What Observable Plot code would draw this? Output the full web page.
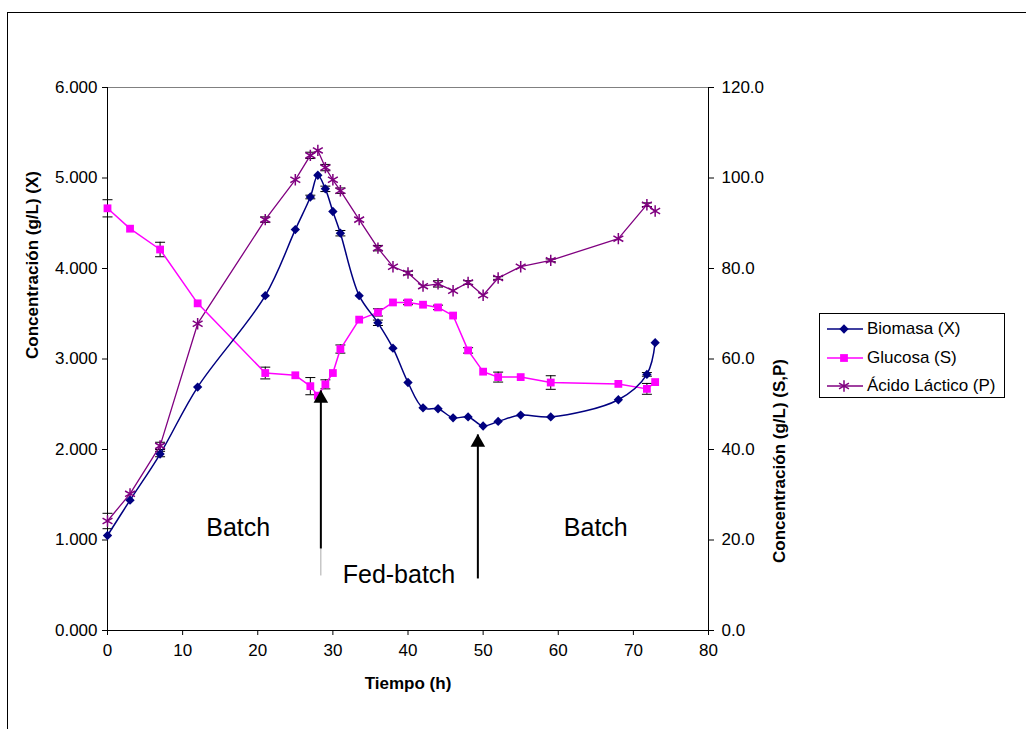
<!DOCTYPE html>
<html>
<head>
<meta charset="utf-8">
<script src="https://cdn.jsdelivr.net/npm/d3@7"></script>
<script src="https://cdn.jsdelivr.net/npm/@observablehq/plot@0.6"></script>
<style>
  html, body { margin: 0; padding: 0; background: #fff; overflow: hidden; width: 1026px; height: 729px; }
  #frame { position: absolute; left: 7px; top: 12px; width: 1100px; height: 800px; border: 1.5px solid #000; }
  #chart { position: absolute; left: 0; top: 0; }
  #legend { position: absolute; left: 819px; top: 313px; width: 184px; height: 83px; border: 1px solid #000; background: #fff;
            font-family: "Liberation Sans", Arial, sans-serif; font-size: 17px; color: #000; }
  .row { position: absolute; left: 0; width: 184px; height: 20px; }
  .row svg { position: absolute; left: 6px; top: 3px; }
  .row span { position: absolute; left: 47px; top: 0; line-height: 20px; white-space: nowrap; }
</style>
</head>
<body>
<div id="frame"></div>
<div id="chart"></div>
<div id="legend"></div>
<script>
// ---- data ----
const tiempo   = [0, 3, 7, 12, 21, 25, 27, 28, 29, 30, 31, 33.5, 36, 38, 40, 42, 44, 46, 48, 50, 52, 55, 59, 68, 71.8, 72.9];
const biomasa  = [1.05, 1.44, 1.95, 2.69, 3.70, 4.43, 4.79, 5.03, 4.88, 4.63, 4.39, 3.70, 3.40, 3.12, 2.74, 2.46, 2.45, 2.35, 2.36, 2.26, 2.31, 2.38, 2.36, 2.55, 2.83, 3.18];
const glucosa  = [93.3, 88.8, 84.2, 72.3, 56.9, 56.4, 54.0, 51.9, 54.4, 56.9, 62.2, 68.7, 70.3, 72.5, 72.5, 72.0, 71.4, 69.6, 61.9, 57.2, 56.0, 56.0, 54.8, 54.5, 53.4, 54.9];
const acido    = [24.2, 30.2, 40.8, 67.8, 90.8, 99.6, 105.0, 106.1, 102.3, 99.6, 97.2, 90.8, 84.5, 80.4, 79.0, 76.1, 76.6, 75.1, 76.9, 74.1, 77.9, 80.4, 81.8, 86.6, 94.1, 92.7];
const errBiomasa = [0, 0, 0.03, 0, 0, 0, 0.02, 0, 0.03, 0, 0.03, 0, 0.03, 0, 0, 0, 0, 0, 0, 0, 0, 0, 0, 0, 0.02, 0];
const errGlucosa = [1.9, 0, 1.6, 0, 1.3, 0, 1.9, 0, 1.0, 0, 0.9, 0, 0.8, 0, 0.5, 0, 0.5, 0, 0.6, 0, 1.1, 0, 1.5, 0, 1.2, 0];
const errAcido   = [1.7, 0, 0.8, 0, 0.6, 0, 0.7, 0, 0.7, 0, 0.6, 0, 0.6, 0, 0.4, 0, 0.7, 0, 0.4, 0, 0.3, 0, 0.3, 0, 0.4, 0];

const seriesNames = ["Biomasa (X)", "Glucosa (S)", "Ácido Láctico (P)"];
const xTicks = [0, 10, 20, 30, 40, 50, 60, 70, 80];
const yLeftTicks = [0, 1, 2, 3, 4, 5, 6];          // g/L (X)
const rightFactor = 20;                              // right axis = left * 20 (S,P)

// annotations
const labelText = ["Batch", "Fed-batch", "Batch"];
const labelT    = [17.4, 38.8, 65.0];
const labelV    = [1.138, 0.608, 1.138];
const arrowT    = [28.4, 49.3];
const arrowFrom = [0.906, 0.575];
const arrowTo   = [2.652, 2.166];
const grayT     = [28.4];
const grayFrom  = [0.906];
const grayTo    = [0.608];

// ---- build tables ----
const rowsX = tiempo.map((t, i) => ({t, v: biomasa[i], e: errBiomasa[i]}));
const rowsS = tiempo.map((t, i) => ({t, v: glucosa[i] / rightFactor, e: errGlucosa[i] / rightFactor}));
const rowsP = tiempo.map((t, i) => ({t, v: acido[i] / rightFactor, e: errAcido[i] / rightFactor}));
const errRows = [...rowsX, ...rowsS, ...rowsP].filter(d => d.e > 0);
const labels = labelText.map((s, i) => ({s, t: labelT[i], v: labelV[i]}));
const arrows = arrowT.map((t, i) => ({t, a: arrowFrom[i], b: arrowTo[i]}));
const grays = grayT.map((t, i) => ({t, a: grayFrom[i], b: grayTo[i]}));

const C_X = "#000080", C_S = "#FF00FF", C_P = "#800080";
const capSymbol = { draw(ctx) { ctx.moveTo(-5, 0); ctx.lineTo(5, 0); } };
const font = "'Liberation Sans', Arial, sans-serif";

const chart = Plot.plot({
  width: 1026, height: 729,
  marginLeft: 107, marginRight: 318, marginTop: 87, marginBottom: 99,
  style: {fontFamily: font, fontSize: "17px", color: "#000", background: "transparent", overflow: "visible"},
  x: {domain: [0, 80]},
  y: {domain: [0, 6]},
  marks: [
    Plot.ruleY([6], {stroke: "#808080", strokeWidth: 1}),
    Plot.ruleY([0], {stroke: "#000", strokeWidth: 1}),
    Plot.ruleX([0], {stroke: "#000", strokeWidth: 1}),
    Plot.ruleX([80], {stroke: "#000", strokeWidth: 1}),
    Plot.axisX({ticks: xTicks, tickSize: 5, tickPadding: 8, tickFormat: d => String(d), fontSize: 17, label: null}),
    Plot.axisY({anchor: "left", ticks: yLeftTicks, tickSize: 5, tickPadding: 5, tickFormat: d => d.toFixed(3), fontSize: 17, label: null}),
    Plot.axisY({anchor: "right", ticks: yLeftTicks, tickSize: 5, tickPadding: 8, tickFormat: d => (d * rightFactor).toFixed(1), fontSize: 17, label: null}),
    Plot.text(["Concentración (g/L) (X)"], {frameAnchor: "left", dx: -75, rotate: -90, fontWeight: "bold", fontSize: 17}),
    Plot.text(["Concentración (g/L) (S,P)"], {frameAnchor: "right", dx: 71, rotate: -90, fontWeight: "bold", fontSize: 17}),
    Plot.text(["Tiempo (h)"], {frameAnchor: "bottom", dy: 58, fontWeight: "bold", fontSize: 17}),
    // error bars
    Plot.ruleX(errRows, {x: "t", y1: d => d.v - d.e, y2: d => d.v + d.e, stroke: "#000", strokeWidth: 1}),
    Plot.dot(errRows, {x: "t", y: d => d.v - d.e, symbol: capSymbol, stroke: "#000", strokeWidth: 1, fill: "none"}),
    Plot.dot(errRows, {x: "t", y: d => d.v + d.e, symbol: capSymbol, stroke: "#000", strokeWidth: 1, fill: "none"}),
    // series
    Plot.line(rowsP, {x: "t", y: "v", stroke: C_P, strokeWidth: 1.3}),
    Plot.line(rowsS, {x: "t", y: "v", stroke: C_S, strokeWidth: 1.5}),
    Plot.line(rowsX, {x: "t", y: "v", stroke: C_X, strokeWidth: 1.5, curve: "catmull-rom"}),
    Plot.dot(rowsP, {x: "t", y: "v", symbol: "asterisk", stroke: C_P, strokeWidth: 1.5, r: 5.4}),
    Plot.dot(rowsS, {x: "t", y: "v", symbol: "square", fill: C_S, stroke: "none", r: 4.4}),
    Plot.dot(rowsX, {x: "t", y: "v", symbol: "diamond2", fill: C_X, stroke: "none", r: 4.2}),
    // annotations
    Plot.link(grays, {x1: "t", x2: "t", y1: "a", y2: "b", stroke: "#aaa", strokeWidth: 1}),
    Plot.link(arrows, {x1: "t", x2: "t", y1: "a", y2: "b", stroke: "#000", strokeWidth: 2}),
    Plot.dot(arrows, {x: "t", y: "b", symbol: "triangle", fill: "#000", stroke: "none", r: 5.4, dy: 8}),
    Plot.text(labels, {x: "t", y: "v", text: "s", fontSize: 25, lineAnchor: "middle", fill: "#000"})
  ]
});
document.getElementById("chart").appendChild(chart);

// ---- legend ----
const legend = document.getElementById("legend");
const legendDefs = [
  {name: seriesNames[0], color: C_X, sym: d3.symbolDiamond2, size: Math.PI * 4.2 * 4.2, fill: true},
  {name: seriesNames[1], color: C_S, sym: d3.symbolSquare, size: Math.PI * 4.4 * 4.4, fill: true},
  {name: seriesNames[2], color: C_P, sym: d3.symbolAsterisk, size: Math.PI * 5.4 * 5.4, fill: false}
];
const rowTops = [5, 34, 62];
legendDefs.forEach((d, i) => {
  const row = document.createElement("div");
  row.className = "row";
  row.style.top = rowTops[i] + "px";
  const path = d3.symbol(d.sym, d.size)();
  row.innerHTML =
    `<svg width="38" height="14" viewBox="0 0 38 14">
       <line x1="1" y1="7" x2="37" y2="7" stroke="${d.color}" stroke-width="${i === 2 ? 1.3 : 1.5}"/>
       <path d="${path}" transform="translate(18,7)" ${d.fill ? `fill="${d.color}"` : `fill="none" stroke="${d.color}" stroke-width="1.5"`}/>
     </svg><span>${d.name}</span>`;
  legend.appendChild(row);
});
</script>
</body>
</html>
